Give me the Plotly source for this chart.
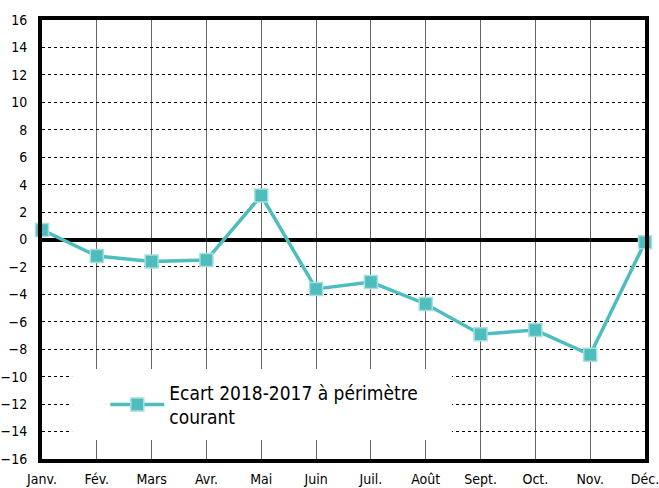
import plotly.graph_objects as go

months = ["Janv.", "Fév.", "Mars", "Avr.", "Mai", "Juin", "Juil.", "Août", "Sept.", "Oct.", "Nov.", "Déc."]
ecart = [0.7, -1.2, -1.6, -1.5, 3.2, -3.6, -3.1, -4.7, -6.9, -6.6, -8.4, -0.2]
y_ticks = list(range(-16, 17, 2))
series_name = "Ecart 2018-2017 à périmètre<br>courant"

FONT = "Liberation Sans Narrow, DejaVu Sans Condensed, Roboto Condensed, Arial Narrow, sans-serif"
TEAL = "#4DBDBE"

fig = go.Figure()
fig.add_trace(go.Scatter(
    x=months, y=ecart, mode="lines+markers", name=series_name,
    line=dict(color=TEAL, width=3.5),
    marker=dict(symbol="square", size=13, color=TEAL, line=dict(color="#A8DEDE", width=1.5)),
    cliponaxis=False,
))

fig.update_layout(
    width=659, height=488,
    margin=dict(l=42, r=14, t=20, b=29),
    paper_bgcolor="white", plot_bgcolor="white",
    font=dict(family=FONT, size=15, color="black"),
    showlegend=True,
    legend=dict(x=0.105, y=0.195, xanchor="left", yanchor="top",
                bgcolor="rgba(0,0,0,0)", font=dict(size=19, family=FONT),
                itemwidth=54),
    shapes=[dict(type="rect", xref="paper", yref="paper", x0=0.05, x1=0.68, y0=0.043, y1=0.205,
                 fillcolor="white", line=dict(width=0), layer="above")],
)
fig.update_xaxes(
    type="category", categoryorder="array", categoryarray=months,
    range=[0, 11], showgrid=True, gridcolor="#666666", gridwidth=1,
    showline=True, linecolor="black", linewidth=4, mirror=True, automargin=False,
    ticks="", tickfont=dict(size=14), ticklabelstandoff=4,
)
fig.update_yaxes(
    range=[-16, 16], tickvals=y_ticks, showgrid=True, gridcolor="black", gridwidth=1,
    griddash="dot", zeroline=True, zerolinecolor="black", zerolinewidth=4,
    showline=True, linecolor="black", linewidth=4, mirror=True, automargin=False,
    ticks="", tickfont=dict(size=14), ticklabelstandoff=8,
)

fig.write_html("out.html", config={"displayModeBar": False},
               post_script="document.body.style.margin='0';document.body.style.overflow='hidden';")
